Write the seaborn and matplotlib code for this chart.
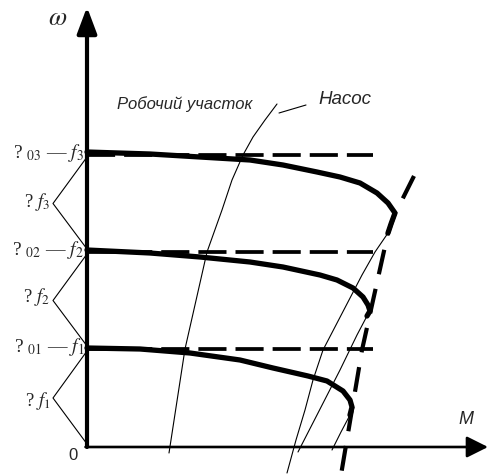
import numpy as np
import pandas as pd
import matplotlib
matplotlib.use("Agg")
import matplotlib.pyplot as plt
import seaborn as sns

# ---------------- data (M = torque, w = angular speed, schematic units) ----------------
omega0_levels = [98, 195, 292]          # ω01, ω02, ω03 (dashed idle-speed lines)
dash_end_M = 286
level_labels = ["? $_{01}$ — $f_1$", "? $_{02}$ — $f_2$", "? $_{03}$ — $f_3$"]
delta_labels = ["? $f_1$", "? $f_2$", "? $f_3$"]
delta_label_w = [46, 150, 245]

# motor mechanical characteristics for f1, f2, f3
curve1_M = [0, 53, 103, 153, 186, 221, 240, 256, 263, 265, 263]
curve1_w = [99, 98, 94, 87, 79, 71, 66, 56, 47, 40, 32]
curve2_M = [0, 63, 113, 163, 196, 233, 250, 266, 276, 281, 283, 280]
curve2_w = [197, 194, 190, 185, 180, 172, 167, 159, 150, 142, 136, 131]
curve3_M = [0, 63, 113, 163, 196, 230, 253, 273, 290, 301, 308, 304, 301]
curve3_w = [295, 293, 290, 287, 282, 275, 270, 264, 254, 244, 234, 223, 214]

# critical-torque (dashed) line
crit_M = [327, 315, 308, 301, 275, 254]
crit_w = [271, 247, 234, 214, 97, -28]

# pump characteristics ("Насос")
pump_M = [190, 178, 166, 156, 145, 135, 120, 98, 82]
pump_w = [343, 327, 310, 292, 267, 237, 195, 98, -6]
lineA_M = [301, 288, 275, 262, 249, 236, 226, 218, 209, 200]
lineA_w = [214, 195, 172, 147, 122, 97, 67, 37, 7, -26]
lineB_M = [280, 270, 253, 231, 211]
lineB_w = [131, 112, 77, 34, -5]
lineC_M = [263, 254, 245]
lineC_w = [32, 15, -3]

# ---------------- figure ----------------
sns.set_theme(style="white")
plt.rcParams["font.family"] = ["Liberation Serif", "DejaVu Serif"]
plt.rcParams["mathtext.fontset"] = "stix"

fig = plt.figure(figsize=(4.89, 4.75), dpi=100)
ax = fig.add_axes([0, 0, 1, 1])
ax.set_xlim(-87, 402)
ax.set_ylim(-28, 447)
ax.axis("off")

def draw(Ms, ws, **kw):
    df = pd.DataFrame({"M": Ms, "w": ws})
    sns.lineplot(data=df, x="M", y="w", sort=False, estimator=None,
                 color="black", ax=ax, legend=False, **kw)

# thin pump curves
for Ms, ws in [(pump_M, pump_w), (lineA_M, lineA_w), (lineB_M, lineB_w), (lineC_M, lineC_w)]:
    draw(Ms, ws, lw=0.8)

# dashed idle-speed lines
for w0 in omega0_levels:
    draw([0, dash_end_M], [w0, w0], lw=2.7, linestyle=(0, (7.5, 2.4)))

# dashed critical line
draw(crit_M, crit_w, lw=3.0, linestyle=(0, (6.0, 3.6)))

# thick motor characteristics
for Ms, ws in [(curve1_M, curve1_w), (curve2_M, curve2_w), (curve3_M, curve3_w)]:
    draw(Ms, ws, lw=3.8, solid_capstyle="round", solid_joinstyle="round")

# axes with arrows
ax.annotate("", xy=(0, 440), xytext=(0, 0),
            arrowprops=dict(arrowstyle="-|>,head_length=16,head_width=6", mutation_scale=1,
                            lw=3, color="black", shrinkA=0, shrinkB=0))
ax.annotate("", xy=(401, 0), xytext=(-1.5, 0),
            arrowprops=dict(arrowstyle="-|>,head_length=13,head_width=6.5", mutation_scale=1,
                            lw=1.9, color="black", shrinkA=0, shrinkB=0))

# brackets for Δf
bounds = [0] + omega0_levels
for i in range(3):
    lo, hi = bounds[i], bounds[i + 1]
    vx = -34
    vy = (lo + hi) / 2
    ax.plot([0, vx, 0], [hi - 2, vy, lo + 3], color="black", lw=0.8)
    ax.text(vx - 3, delta_label_w[i], delta_labels[i], ha="right", va="center", fontsize=13.5)

# level labels
for w0, lab in zip(omega0_levels, level_labels):
    ax.text(-3, w0 + 2, lab, ha="right", va="center", fontsize=14)

# other labels
ax.text(-29, 428, r"$\omega$", ha="center", va="center", fontsize=19)
ax.text(379, 27, "M", ha="center", va="center", fontsize=13, style="italic",
        family=["Liberation Sans", "DejaVu Sans"])
ax.text(-14, -8, "0", ha="center", va="center", fontsize=12,
        family=["Liberation Sans", "DejaVu Sans"])
ax.text(30, 343, "Робочий участок", ha="left", va="center", fontsize=12, style="italic",
        family=["Liberation Sans", "DejaVu Sans"])
ax.text(231, 347, "Насос", ha="left", va="center", fontsize=13.5, style="italic",
        family=["Liberation Sans", "DejaVu Sans"])
ax.plot([192, 219], [334, 342], color="black", lw=0.8)

fig.savefig("out.png", dpi=100, facecolor="white")
